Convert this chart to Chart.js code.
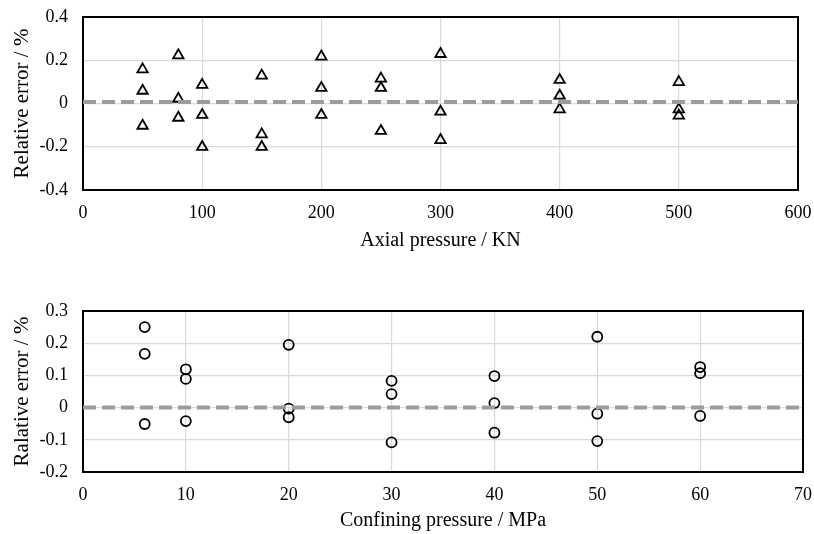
<!DOCTYPE html>
<html>
<head>
<meta charset="utf-8">
<script src="https://cdn.jsdelivr.net/npm/chart.js@4.4.1/dist/chart.umd.min.js"></script>
<style>
  html, body { margin: 0; padding: 0; background: #fff; }
  #wrap { position: relative; width: 814px; height: 534px; background: #fff; }
  #c1 { position: absolute; left: 0; top: 0; }
  #c2 { position: absolute; left: 0; top: 270px; }
</style>
</head>
<body>
<div id="wrap">
  <canvas id="c1" width="814" height="260"></canvas>
  <canvas id="c2" width="814" height="264"></canvas>
</div>
<script>
// ---- Data ----
const axialPressure = [50, 50, 50, 80, 80, 80, 100, 100, 100, 150, 150, 150, 200, 200, 200, 250, 250, 250, 300, 300, 300, 400, 400, 400, 500, 500, 500];
const axialError    = [0.158, 0.059, -0.103, 0.223, 0.022, -0.066, 0.086, -0.053, -0.201, 0.129, -0.143, -0.201, 0.217, 0.072, -0.053, 0.115, 0.072, -0.127, 0.229, -0.038, -0.169, 0.109, 0.036, -0.027, 0.099, -0.027, -0.056];

const confiningPressure = [6, 6, 6, 10, 10, 10, 20, 20, 20, 30, 30, 30, 40, 40, 40, 50, 50, 50, 60, 60, 60];
const confiningError    = [0.250, 0.167, -0.051, 0.119, 0.089, -0.042, 0.195, -0.003, -0.030, 0.083, 0.042, -0.108, 0.098, 0.014, -0.078, 0.220, -0.019, -0.104, 0.126, 0.107, -0.026];

const axialRefX = [0, 600];
const axialRefY = [0.007, 0.007];
const confRefX = [0, 70];
const confRefY = [0, 0];

const axialXTicks = [0, 100, 200, 300, 400, 500, 600];
const axialYTicks = [-0.4, -0.2, 0, 0.2, 0.4];
const confXTicks = [0, 10, 20, 30, 40, 50, 60, 70];
const confYTicks = [-0.2, -0.1, 0, 0.1, 0.2, 0.3];

const axialXTitle = 'Axial pressure / KN';
const axialYTitle = 'Relative error / %';
const confXTitle = 'Confining pressure / MPa';
const confYTitle = 'Ralative error / %';

// ---- Helpers ----
const FONT = '"Liberation Serif", "Times New Roman", serif';
const pts = (xs, ys) => xs.map((x, i) => ({ x: x, y: ys[i] }));
const fixTicks = (arr) => (scale) => { scale.ticks = arr.map(v => ({ value: v })); };
const tickLabel = (v) => String(Math.round(v * 1000) / 1000);
const noPad = (s) => { s.paddingTop = 0; s.paddingBottom = 0; s.paddingLeft = 0; s.paddingRight = 0; };

function makeChart(canvas, opt) {
  return new Chart(canvas, {
    type: 'scatter',
    data: {
      datasets: [
        {
          data: pts(opt.refX, opt.refY),
          showLine: true,
          borderColor: '#9c9c9c',
          borderWidth: 4,
          borderDash: [13, 6],
          pointRadius: 0,
          order: 0
        },
        {
          data: pts(opt.x, opt.y),
          pointStyle: opt.pointStyle,
          pointRadius: opt.radius,
          pointBorderWidth: 1.8,
          pointBorderColor: '#000',
          pointBackgroundColor: 'rgba(255,255,255,0)',
          showLine: false,
          order: 1
        }
      ]
    },
    options: {
      responsive: false,
      maintainAspectRatio: false,
      animation: false,
      devicePixelRatio: 1,
      layout: { padding: opt.padding, autoPadding: false },
      plugins: { legend: { display: false }, tooltip: { enabled: false } },
      scales: {
        x: {
          type: 'linear',
          position: 'bottom',
          min: opt.xTicks[0],
          max: opt.xTicks[opt.xTicks.length - 1],
          afterBuildTicks: fixTicks(opt.xTicks),
          afterFit: (s) => { s.height = opt.xAxisHeight; noPad(s); },
          grid: { color: '#d9d9d9', lineWidth: 1.2, drawTicks: false },
          border: { display: true, color: '#000', width: 2 },
          ticks: { color: '#000', font: { family: FONT, size: 18 }, padding: 12, maxRotation: 0, callback: tickLabel },
          title: { display: true, text: opt.xTitle, color: '#000', font: { family: FONT, size: 20 }, padding: { top: 0, bottom: opt.xTitleBottom } }
        },
        y: {
          type: 'linear',
          position: 'left',
          min: opt.yTicks[0],
          max: opt.yTicks[opt.yTicks.length - 1],
          afterBuildTicks: fixTicks(opt.yTicks),
          afterFit: (s) => { s.width = 83; noPad(s); },
          grid: { color: '#d9d9d9', lineWidth: 1.2, drawTicks: false },
          border: { display: true, color: '#000', width: 2 },
          ticks: { color: '#000', font: { family: FONT, size: 18 }, padding: 15, callback: tickLabel },
          title: { display: true, text: opt.yTitle, color: '#000', font: { family: FONT, size: 21 }, padding: { top: 10, bottom: 0 } }
        },
        x2: {
          type: 'linear', position: 'top', display: true,
          min: opt.xTicks[0], max: opt.xTicks[opt.xTicks.length - 1],
          afterFit: (s) => { s.height = 0; noPad(s); },
          grid: { display: false, drawTicks: false },
          ticks: { display: false, padding: 0 },
          border: { display: true, color: '#000', width: 2 }
        },
        y2: {
          type: 'linear', position: 'right', display: true,
          min: opt.yTicks[0], max: opt.yTicks[opt.yTicks.length - 1],
          afterFit: (s) => { s.width = 0; noPad(s); },
          grid: { display: false, drawTicks: false },
          ticks: { display: false, padding: 0 },
          border: { display: true, color: '#000', width: 2 }
        }
      }
    }
  });
}

makeChart(document.getElementById('c1'), {
  x: axialPressure, y: axialError, refX: axialRefX, refY: axialRefY,
  xTicks: axialXTicks, yTicks: axialYTicks,
  xTitle: axialXTitle, yTitle: axialYTitle,
  pointStyle: 'triangle', radius: 6,
  padding: { left: 0, right: 16, top: 17, bottom: 0 },
  xAxisHeight: 70, xTitleBottom: 7
});

makeChart(document.getElementById('c2'), {
  x: confiningPressure, y: confiningError, refX: confRefX, refY: confRefY,
  xTicks: confXTicks, yTicks: confYTicks,
  xTitle: confXTitle, yTitle: confYTitle,
  pointStyle: 'circle', radius: 5,
  padding: { left: 0, right: 11, top: 41, bottom: 0 },
  xAxisHeight: 62, xTitleBottom: 1
});
</script>
</body>
</html>
